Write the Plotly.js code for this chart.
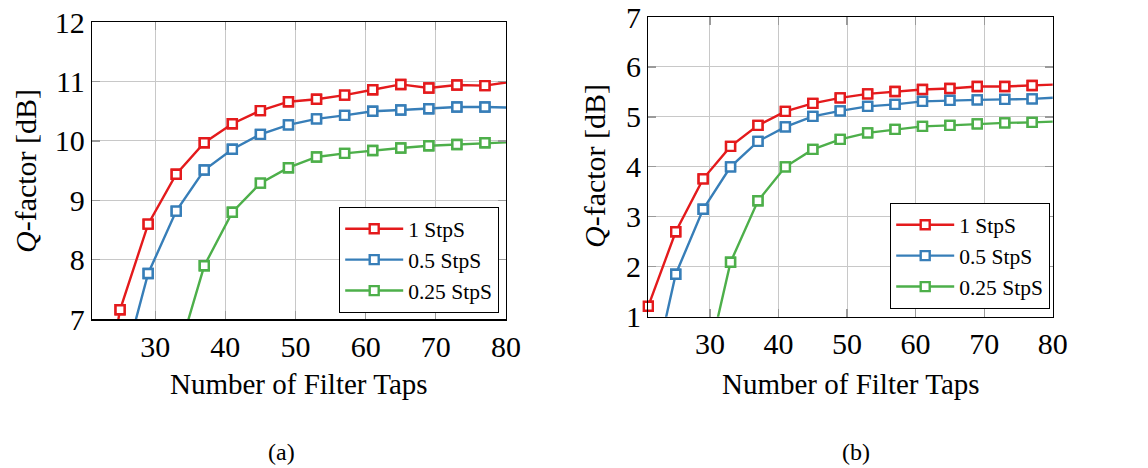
<!DOCTYPE html>
<html>
<head>
<meta charset="utf-8">
<script src="https://cdn.plot.ly/plotly-3.0.1.min.js"></script>
<style>
  html, body { margin: 0; padding: 0; background: #ffffff; }
  #chart { width: 1148px; height: 468px; }
</style>
</head>
<body>
<div id="chart"></div>
<script>
// ---- data ----
var taps = [21, 25, 29, 33, 37, 41, 45, 49, 53, 57, 61, 65, 69, 73, 77, 81];

// (a)
var q1StpS_a   = [4.5, 7.16, 8.60, 9.44, 9.97, 10.29, 10.51, 10.66, 10.70, 10.77, 10.86, 10.95, 10.89, 10.94, 10.93, 11.00];
var q05StpS_a  = [null, 6.0, 7.77, 8.82, 9.51, 9.86, 10.11, 10.27, 10.37, 10.43, 10.50, 10.52, 10.54, 10.57, 10.57, 10.56];
var q025StpS_a = [null, null, null, 6.3, 7.90, 8.80, 9.29, 9.55, 9.73, 9.79, 9.84, 9.88, 9.92, 9.94, 9.97, 9.98];

// (b)
var q1StpS_b   = [1.21, 2.70, 3.76, 4.41, 4.83, 5.11, 5.27, 5.38, 5.46, 5.51, 5.55, 5.57, 5.61, 5.61, 5.63, 5.65];
var q05StpS_b  = [-0.6, 1.85, 3.15, 4.00, 4.51, 4.80, 5.01, 5.12, 5.21, 5.25, 5.31, 5.33, 5.34, 5.35, 5.36, 5.39];
var q025StpS_b = [null, null, -0.3, 2.09, 3.32, 4.00, 4.35, 4.55, 4.68, 4.75, 4.81, 4.83, 4.86, 4.88, 4.89, 4.91];

var seriesNames = ['1 StpS', '0.5 StpS', '0.25 StpS'];
var xTickVals = [30, 40, 50, 60, 70, 80];
var yTickValsA = [7, 8, 9, 10, 11, 12];
var yTickValsB = [1, 2, 3, 4, 5, 6, 7];
var xRange = [21, 80];
var yRangeA = [7, 12];
var yRangeB = [1, 7];
var captions = ['(a)', '(b)'];
var xTitle = 'Number of Filter Taps';
var yTitle = '<i>Q</i>-factor [dB]';

// ---- styling ----
var colors = ['#e41a1c', '#377eb8', '#4daf4a'];
var FONT = '"Liberation Serif", "Times New Roman", serif';

function inRange(x, y, xr, yr) {
  return y !== null && x >= xr[0] && x <= xr[1] && y >= yr[0] && y <= yr[1];
}

function makeTraces(ys, xa, ya, yr, legendId) {
  var out = [];
  ys.forEach(function (y, i) {
    out.push({
      x: taps, y: y, type: 'scatter', mode: 'lines+markers',
      name: seriesNames[i], xaxis: xa, yaxis: ya, legend: legendId,
      line: { color: colors[i], width: 2.4 },
      marker: { symbol: 'square', size: 9, color: '#ffffff', line: { color: colors[i], width: 2.4 } },
      cliponaxis: true, connectgaps: false, hoverinfo: 'x+y'
    });
    var mx = [], my = [];
    taps.forEach(function (t, k) {
      if (inRange(t, y[k], xRange, yr)) { mx.push(t); my.push(y[k]); }
    });
    out.push({
      x: mx, y: my, type: 'scatter', mode: 'markers', showlegend: false,
      xaxis: xa, yaxis: ya, cliponaxis: false, hoverinfo: 'skip',
      marker: { symbol: 'square', size: 9, color: '#ffffff', line: { color: colors[i], width: 2.4 } }
    });
  });
  return out;
}

var data = []
  .concat(makeTraces([q1StpS_a, q05StpS_a, q025StpS_a], 'x', 'y', yRangeA, 'legend'))
  .concat(makeTraces([q1StpS_b, q05StpS_b, q025StpS_b], 'x2', 'y2', yRangeB, 'legend2'));

var W = 1148, H = 468;
function px(v) { return v / W; }
function py(v) { return 1 - v / H; }

var axisCommon = {
  showline: true, linecolor: '#000000', linewidth: 1.2, mirror: 'ticks',
  ticks: 'inside', ticklen: 8, tickcolor: '#9a9a9a', tickwidth: 1.2,
  showgrid: true, gridcolor: '#c8c8c8', gridwidth: 1,
  zeroline: false, automargin: false, ticklabeloverflow: 'allow',
  tickfont: { family: FONT, size: 30, color: '#000000' }
};

function ax(extra) { return Object.assign({}, axisCommon, extra); }

var legendCommon = {
  font: { family: FONT, size: 21.5, color: '#000000' },
  bgcolor: '#ffffff', bordercolor: '#000000', borderwidth: 1.2,
  xanchor: 'left', yanchor: 'top', itemwidth: 58,
  tracegroupgap: 0
};

var layout = {
  width: W, height: H,
  margin: { l: 0, r: 0, t: 0, b: 0, pad: 0 },
  paper_bgcolor: '#ffffff', plot_bgcolor: '#ffffff',
  showlegend: true,
  font: { family: FONT, color: '#000000' },
  xaxis: ax({ domain: [px(92), px(506)], range: xRange, tickvals: xTickVals, anchor: 'y' }),
  yaxis: ax({ domain: [py(319.3), py(22)], range: yRangeA, tickvals: yTickValsA, anchor: 'x' }),
  xaxis2: ax({ domain: [px(648.3), px(1052.7)], range: xRange, tickvals: xTickVals, anchor: 'y2' }),
  yaxis2: ax({ domain: [py(316.7), py(17)], range: yRangeB, tickvals: yTickValsB, anchor: 'x2' }),
  legend: Object.assign({}, legendCommon, { x: px(339), y: py(207) }),
  legend2: Object.assign({}, legendCommon, { x: px(890), y: py(203) }),
  annotations: [
    { text: xTitle, xref: 'paper', yref: 'paper', x: px(299), y: py(384), xanchor: 'center', yanchor: 'middle',
      showarrow: false, font: { family: FONT, size: 29, color: '#000' } },
    { text: xTitle, xref: 'paper', yref: 'paper', x: px(850.5), y: py(384), xanchor: 'center', yanchor: 'middle',
      showarrow: false, font: { family: FONT, size: 29, color: '#000' } },
    { text: yTitle, xref: 'paper', yref: 'paper', x: px(25), y: py(171), xanchor: 'center', yanchor: 'middle',
      textangle: -90, showarrow: false, font: { family: FONT, size: 30, color: '#000' } },
    { text: yTitle, xref: 'paper', yref: 'paper', x: px(594), y: py(166), xanchor: 'center', yanchor: 'middle',
      textangle: -90, showarrow: false, font: { family: FONT, size: 30, color: '#000' } },
    { text: captions[0], xref: 'paper', yref: 'paper', x: px(281), y: py(452), xanchor: 'center', yanchor: 'middle',
      showarrow: false, font: { family: FONT, size: 24, color: '#000' } },
    { text: captions[1], xref: 'paper', yref: 'paper', x: px(856.5), y: py(452), xanchor: 'center', yanchor: 'middle',
      showarrow: false, font: { family: FONT, size: 24, color: '#000' } }
  ]
};

Plotly.newPlot('chart', data, layout, { displayModeBar: false, staticPlot: true });
</script>
</body>
</html>
